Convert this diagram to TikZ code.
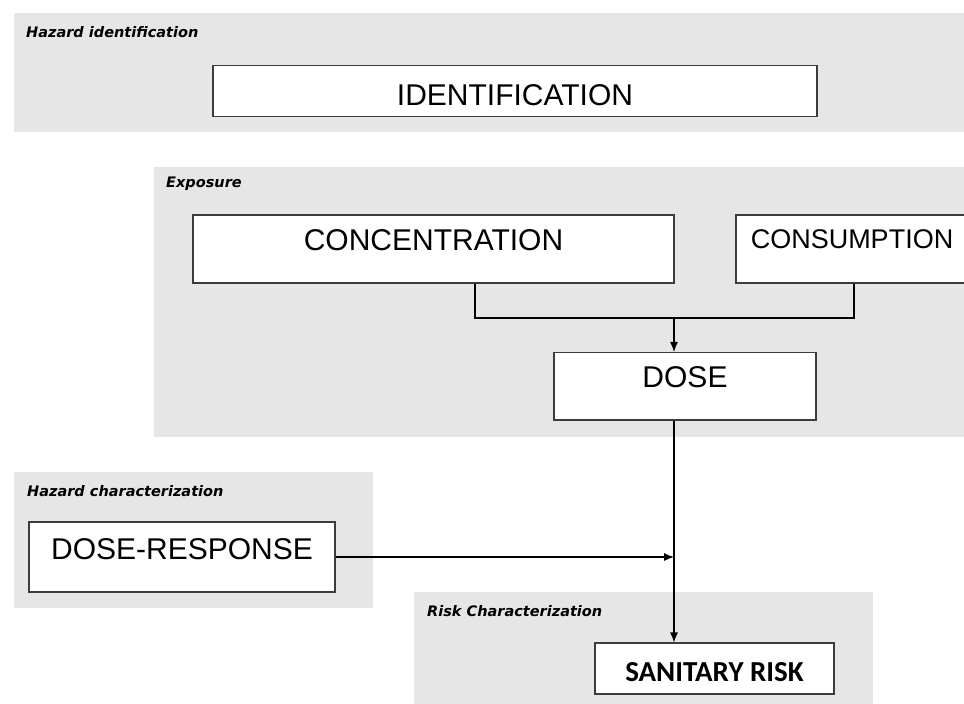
\documentclass[tikz,border=0pt]{standalone}
\usepackage{fontspec}
\setmainfont{Liberation Sans}
\newfontfamily\tagfont{DejaVu Sans}
\newfontfamily\riskfont{Carlito}
\usetikzlibrary{arrows.meta}
\definecolor{panel-grey}{RGB}{230,230,230}
\definecolor{frame-grey}{RGB}{60,60,60}

\begin{document}
\begin{tikzpicture}[x=1pt,y=-1pt,
  panel/.style={fill=panel-grey},
  tag/.style={anchor=base west,inner sep=0,font=\tagfont\bfseries\itshape\fontsize{14.5}{16}\selectfont},
  box/.style={draw=frame-grey,line width=1.1pt,fill=white,inner sep=0,anchor=base,font=\fontsize{30}{34}\selectfont},
  link/.style={line width=1.1pt,black},
  >={Latex[length=10pt,width=8pt]}]
\useasboundingbox (0,0) rectangle (964,704);
%Hintergrundflaechen:
\fill[panel] (14,13) rectangle (964,132);
\fill[panel] (154,167) rectangle (964,437);
\fill[panel] (14,472) rectangle (373,608);
\fill[panel] (414,592) rectangle (873,704);
\node[tag] (hazid) at (26,37) {Hazard identification};
\node[tag] (expo) at (166,187) {Exposure};
\node[tag] (hazchar) at (27,496) {Hazard characterization};
\node[tag] (riskchar) at (427,616) {Risk Characterization};
%Kaesten:
\node[box,minimum width=604,text height=39.5,text depth=11.5] (ident) at (515,105) {IDENTIFICATION};
\node[box,minimum width=481,text height=35,text depth=33] (conc) at (433.5,250) {CONCENTRATION};
\node[box,minimum width=232,text height=33,text depth=35,font=\fontsize{27}{30}\selectfont] (cons) at (852,248) {CONSUMPTION};
\node[box,minimum width=262,text height=34.5,text depth=33] (dose) at (685,387) {DOSE};
\node[box,minimum width=306,text height=37,text depth=33] (doseresp) at (182,559) {DOSE-RESPONSE};
\node[box,minimum width=239,text height=38.5,text depth=12.5,font=\riskfont\bfseries\fontsize{29}{32}\selectfont] (risk) at (714.5,681.5) {SANITARY RISK};
%Verbindungen:
\coordinate (jconc) at (475,318);
\coordinate (jcons) at (854,318);
\coordinate (jdose) at (674,318);
\draw[link] (jconc |- conc.south) -- (jconc) -- (jcons) -- (jcons |- cons.south);
\draw[link,->] (jdose) -- (jdose |- dose.north);
\draw[link,->] (jdose |- dose.south) -- (jdose |- risk.north);
\draw[link,->] (doseresp.east) -- (doseresp.east -| jdose);
\end{tikzpicture}
\end{document}
